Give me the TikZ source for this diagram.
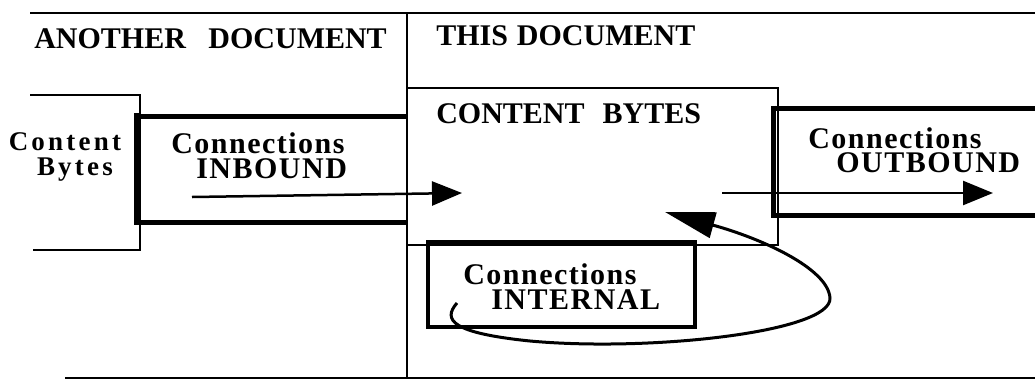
\documentclass[tikz,border=0pt]{standalone}
\usepackage{fontspec}
\setmainfont{Liberation Serif}
\newfontfamily\spacedfont[LetterSpace=12]{Liberation Serif}
\newfontfamily\labelfont[LetterSpace=5]{Liberation Serif}
\usetikzlibrary{arrows.meta}

\begin{document}
\begin{tikzpicture}[x=1pt,y=-1pt,line width=2.5pt,
  thickline/.style={line width=5pt},
  flow/.style={line width=2.5pt,-{Triangle[length=30pt,width=24pt]}},
  loopflow/.style={line width=3pt,-{Triangle[length=50pt,width=26pt]}},
  heading/.style={font=\bfseries\fontsize{30}{30}\selectfont,anchor=base west,inner sep=0pt},
  conn/.style={font=\bfseries\labelfont\fontsize{30}{30}\selectfont,anchor=base west,inner sep=0pt},
  bytes/.style={font=\bfseries\spacedfont\fontsize{27}{27}\selectfont,anchor=base,inner sep=0pt}]
\useasboundingbox (0,0) rectangle (1035,381);

% frame and divider
\draw (30,13)--(1035,13);
\draw (407,13)--(407,378);
\draw (65,378)--(1035,378);

% other document content
\draw (30,95)--(140,95)--(140,250)--(33,250);
\draw[thickline] (137,116)--(407,116);
\draw[thickline] (137,222)--(407,222);
\draw[line width=7pt] (137,113)--(137,225);

% this document content
\draw (407,88)--(778,88)--(778,245)--(407,245);
\draw[thickline] (773,108)--(1035,108);
\draw[thickline] (773,215)--(1035,215);
\draw[thickline] (773,105.5)--(773,217.5);
\draw[line width=4.5pt] (428,242) rectangle (695,327);

\node[heading] (another) at (33,48) {ANOTHER\hspace{0.75em}DOCUMENT};
\node[heading] (this) at (435,45) {THIS\hspace{0.3em}DOCUMENT};
\node[heading] (bytes) at (435,123) {CONTENT\hspace{0.6em}BYTES};
\node[bytes] (other-top) at (65,150) {Content};
\node[bytes] (other-bot) at (75,175) {Bytes};

\node[conn] (inbound-top) at (170,153) {Connections};
\node[conn] (inbound-bot) at (195,178) {INBOUND};
\node[conn] (outbound-top) at (807,148) {Connections};
\node[conn] (outbound-bot) at (835,172) {OUTBOUND};
\node[conn] (internal-top) at (462,284) {Connections};
\node[conn] (internal-bot) at (490,309) {INTERNAL};

\coordinate (in-start) at (192,197);
\coordinate (in-end) at (462,193);
\coordinate (out-start) at (722,193);
\coordinate (out-end) at (993,193);
\coordinate (int-start) at (457,303);
\coordinate (int-end) at (665,212);

\draw[flow] (in-start)--(in-end);
\draw[flow] (out-start)--(out-end);
\draw[loopflow] (int-start) .. controls (442,320) and (452,333) .. (530,341)
  .. controls (650,352) and (832,332) .. (830,298)
  .. controls (828,268) and (760,238) .. (int-end);
\end{tikzpicture}
\end{document}
